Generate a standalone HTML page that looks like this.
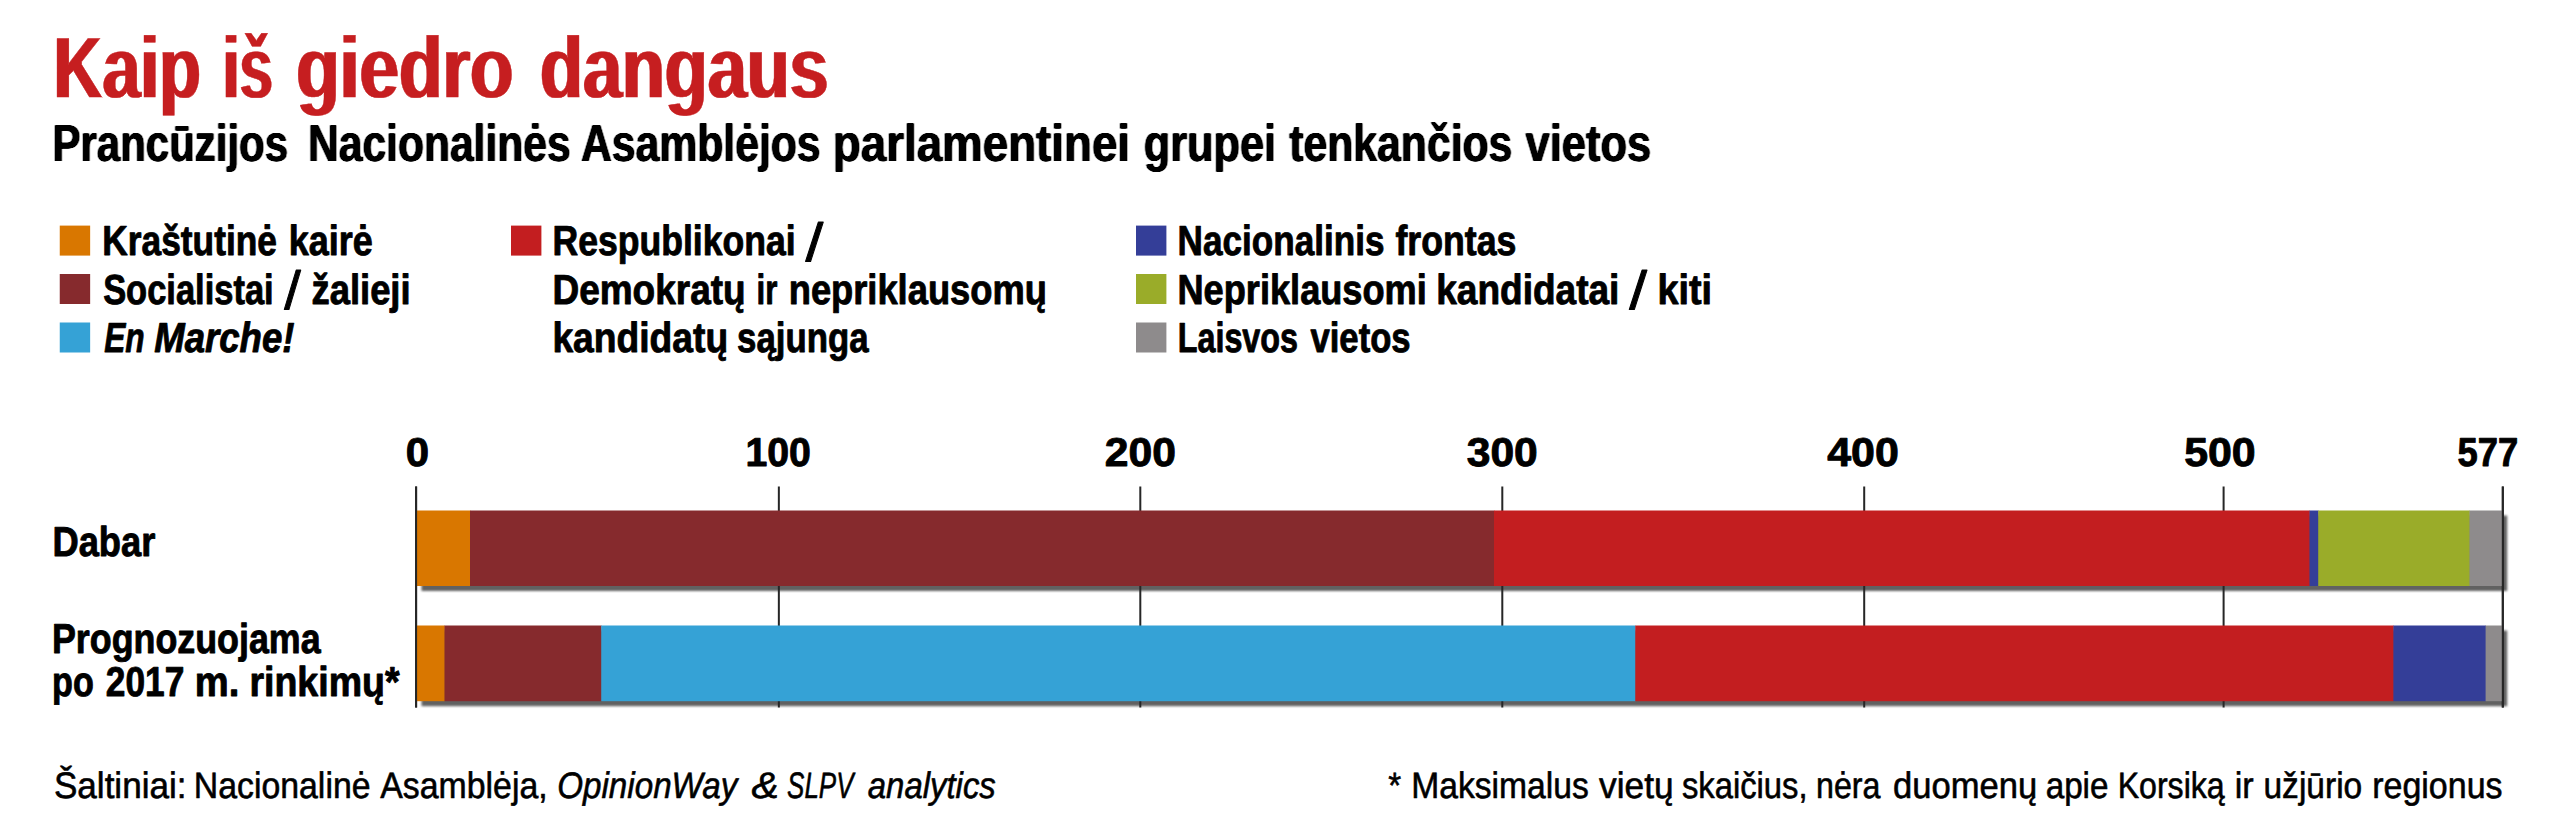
<!DOCTYPE html>
<html lang="lt">
<head>
<meta charset="utf-8">
<title>Kaip iš giedro dangaus</title>
<style>
html,body{margin:0;padding:0;background:#fff;}
body{width:2560px;height:835px;overflow:hidden;}
svg{display:block;}
svg text{font-family:"Liberation Sans",sans-serif;white-space:pre;text-rendering:geometricPrecision;stroke-linejoin:round;vector-effect:non-scaling-stroke;}
</style>
</head>
<body>
<svg width="2560" height="835" viewBox="0 0 2560 835">
<defs>
<filter id="sh" x="-1%" y="-20%" width="102%" height="140%">
<feGaussianBlur in="SourceGraphic" stdDeviation="1.2"/>
<feOffset dx="4.8" dy="5"/>
<feComponentTransfer><feFuncA type="linear" slope="0.62"/></feComponentTransfer>
</filter>
<filter id="ft" filterUnits="userSpaceOnUse" x="0" y="0" width="2560" height="240" color-interpolation-filters="sRGB"><feMorphology operator="erode" radius="0 1"/><feMorphology operator="dilate" radius="1 0"/></filter>
<filter id="fs" filterUnits="userSpaceOnUse" x="0" y="0" width="2560" height="240" color-interpolation-filters="sRGB"><feConvolveMatrix order="3 1" kernelMatrix="0.42 1 0.42" divisor="1" edgeMode="none"/></filter>
</defs>
<rect width="2560" height="835" fill="#fff"/>
<rect x="59.75" y="225.6" width="30.4" height="30" fill="#d97700"/>
<rect x="59.75" y="274" width="30.4" height="30" fill="#862a2d"/>
<rect x="59.75" y="322.5" width="30.4" height="30" fill="#35a2d6"/>
<rect x="511" y="225.6" width="30.4" height="30" fill="#c31e20"/>
<rect x="1136" y="225.6" width="30.4" height="30" fill="#343e98"/>
<rect x="1136" y="274" width="30.4" height="30" fill="#9aac29"/>
<rect x="1136" y="322.5" width="30.4" height="30" fill="#8e8b8c"/>
<rect x="416.5" y="510.5" width="2085.70" height="75.5" fill="#000" filter="url(#sh)"/>
<rect x="416.5" y="625.5" width="2085.70" height="75.7" fill="#000" filter="url(#sh)"/>
<rect x="415.10" y="486.5" width="2" height="221" fill="#262626"/>
<rect x="777.85" y="486.5" width="2" height="221" fill="#262626"/>
<rect x="1139.30" y="486.5" width="2" height="221" fill="#262626"/>
<rect x="1501.30" y="486.5" width="2" height="221" fill="#262626"/>
<rect x="1863.20" y="486.5" width="2" height="221" fill="#262626"/>
<rect x="2222.60" y="486.5" width="2" height="221" fill="#262626"/>
<rect x="2501.80" y="486.5" width="2" height="221" fill="#262626"/>
<rect x="416.50" y="510.5" width="53.90" height="75.5" fill="#d97700"/>
<rect x="470.00" y="510.5" width="1024.40" height="75.5" fill="#862a2d"/>
<rect x="1494.00" y="510.5" width="815.90" height="75.5" fill="#c31e20"/>
<rect x="2309.50" y="510.5" width="9.15" height="75.5" fill="#343e98"/>
<rect x="2318.25" y="510.5" width="151.65" height="75.5" fill="#9aac29"/>
<rect x="2469.50" y="510.5" width="32.70" height="75.5" fill="#8e8b8c"/>
<rect x="416.50" y="625.5" width="28.40" height="75.7" fill="#d97700"/>
<rect x="444.50" y="625.5" width="157.15" height="75.7" fill="#862a2d"/>
<rect x="601.25" y="625.5" width="1034.45" height="75.7" fill="#35a2d6"/>
<rect x="1635.30" y="625.5" width="758.50" height="75.7" fill="#c31e20"/>
<rect x="2393.40" y="625.5" width="92.60" height="75.7" fill="#343e98"/>
<rect x="2485.60" y="625.5" width="16.60" height="75.7" fill="#8e8b8c"/>
<rect x="2501.80" y="486.5" width="2" height="221" fill="#262626"/>
<rect x="415.10" y="486.5" width="2" height="221" fill="#262626"/>
<g stroke="#000">
<text y="97.80" font-size="87.94" font-weight="bold" fill="#c61e20" stroke="#c61e20" stroke-width="0.5" filter="url(#ft)"><tspan x="53.38" textLength="147.46" lengthAdjust="spacingAndGlyphs">Kaip</tspan> <tspan x="222.76" textLength="49.96" lengthAdjust="spacingAndGlyphs">iš</tspan> <tspan x="296.33" textLength="217.11" lengthAdjust="spacingAndGlyphs">giedro</tspan> <tspan x="540.11" textLength="288.46" lengthAdjust="spacingAndGlyphs">dangaus</tspan></text>
<text y="161.00" font-size="52.03" font-weight="bold" stroke="none" filter="url(#fs)"><tspan x="52.55" textLength="235.54" lengthAdjust="spacingAndGlyphs">Prancūzijos</tspan> <tspan x="308.01" textLength="262.59" lengthAdjust="spacingAndGlyphs">Nacionalinės</tspan> <tspan x="580.90" textLength="239.71" lengthAdjust="spacingAndGlyphs">Asamblėjos</tspan> <tspan x="832.83" textLength="297.23" lengthAdjust="spacingAndGlyphs">parlamentinei</tspan> <tspan x="1143.80" textLength="132.35" lengthAdjust="spacingAndGlyphs">grupei</tspan> <tspan x="1289.22" textLength="223.14" lengthAdjust="spacingAndGlyphs">tenkančios</tspan> <tspan x="1525.47" textLength="125.67" lengthAdjust="spacingAndGlyphs">vietos</tspan></text>
<text y="255.15" font-size="42.01" font-weight="bold" stroke-width="0.9"><tspan x="102.27" textLength="174.67" lengthAdjust="spacingAndGlyphs">Kraštutinė</tspan> <tspan x="288.74" textLength="83.98" lengthAdjust="spacingAndGlyphs">kairė</tspan></text>
<text y="303.55" font-size="42.01" font-weight="bold" stroke-width="0.9"><tspan x="103.13" textLength="170.51" lengthAdjust="spacingAndGlyphs">Socialistai</tspan> <tspan x="284.20" y="309.05" font-size="53.77" font-weight="normal" textLength="16.53" lengthAdjust="spacingAndGlyphs">/</tspan> <tspan x="311.48" y="303.55" textLength="99.13" lengthAdjust="spacingAndGlyphs">žalieji</tspan></text>
<text y="352.05" font-size="42.01" font-weight="bold" font-style="italic" stroke-width="0.9"><tspan x="104.20" textLength="40.34" lengthAdjust="spacingAndGlyphs">En</tspan> <tspan x="154.20" textLength="140.34" lengthAdjust="spacingAndGlyphs">Marche!</tspan></text>
<text y="255.15" font-size="42.01" font-weight="bold" stroke-width="0.9"><tspan x="552.51" textLength="243.05" lengthAdjust="spacingAndGlyphs">Respublikonai</tspan> <tspan x="805.45" y="260.65" font-size="53.77" font-weight="normal" textLength="17.77" lengthAdjust="spacingAndGlyphs">/</tspan></text>
<text y="303.55" font-size="42.01" font-weight="bold" stroke-width="0.9"><tspan x="552.44" textLength="193.20" lengthAdjust="spacingAndGlyphs">Demokratų</tspan> <tspan x="756.46" textLength="20.84" lengthAdjust="spacingAndGlyphs">ir</tspan> <tspan x="788.72" textLength="258.12" lengthAdjust="spacingAndGlyphs">nepriklausomų</tspan></text>
<text y="352.05" font-size="42.01" font-weight="bold" stroke-width="0.9"><tspan x="552.43" textLength="175.72" lengthAdjust="spacingAndGlyphs">kandidatų</tspan> <tspan x="737.12" textLength="131.40" lengthAdjust="spacingAndGlyphs">sąjunga</tspan></text>
<text y="255.15" font-size="42.01" font-weight="bold" stroke-width="0.9"><tspan x="1177.53" textLength="206.91" lengthAdjust="spacingAndGlyphs">Nacionalinis</tspan> <tspan x="1395.45" textLength="121.00" lengthAdjust="spacingAndGlyphs">frontas</tspan></text>
<text y="303.55" font-size="42.01" font-weight="bold" stroke-width="0.9"><tspan x="1177.48" textLength="249.37" lengthAdjust="spacingAndGlyphs">Nepriklausomi</tspan> <tspan x="1436.19" textLength="183.22" lengthAdjust="spacingAndGlyphs">kandidatai</tspan> <tspan x="1629.20" y="309.05" font-size="53.77" font-weight="normal" textLength="17.77" lengthAdjust="spacingAndGlyphs">/</tspan> <tspan x="1657.40" y="303.55" textLength="54.55" lengthAdjust="spacingAndGlyphs">kiti</tspan></text>
<text y="352.05" font-size="42.01" font-weight="bold" stroke-width="0.9"><tspan x="1177.66" textLength="120.44" lengthAdjust="spacingAndGlyphs">Laisvos</tspan> <tspan x="1310.45" textLength="100.22" lengthAdjust="spacingAndGlyphs">vietos</tspan></text>
<text y="465.85" font-size="40.26" font-weight="bold" stroke-width="0.9"><tspan x="405.66" textLength="23.34" lengthAdjust="spacingAndGlyphs">0</tspan></text>
<text y="465.85" font-size="40.26" font-weight="bold" stroke-width="0.9"><tspan x="745.40" textLength="65.50" lengthAdjust="spacingAndGlyphs">100</tspan></text>
<text y="465.85" font-size="40.26" font-weight="bold" stroke-width="0.9"><tspan x="1104.89" textLength="71.13" lengthAdjust="spacingAndGlyphs">200</tspan></text>
<text y="465.85" font-size="40.26" font-weight="bold" stroke-width="0.9"><tspan x="1466.75" textLength="71.01" lengthAdjust="spacingAndGlyphs">300</tspan></text>
<text y="465.85" font-size="40.26" font-weight="bold" stroke-width="0.9"><tspan x="1827.15" textLength="71.68" lengthAdjust="spacingAndGlyphs">400</tspan></text>
<text y="465.85" font-size="40.26" font-weight="bold" stroke-width="0.9"><tspan x="2184.18" textLength="71.54" lengthAdjust="spacingAndGlyphs">500</tspan></text>
<text y="465.85" font-size="40.26" font-weight="bold" stroke-width="0.9"><tspan x="2457.55" textLength="60.76" lengthAdjust="spacingAndGlyphs">577</tspan></text>
<text y="555.65" font-size="41.72" font-weight="bold" stroke-width="0.9"><tspan x="52.46" textLength="102.89" lengthAdjust="spacingAndGlyphs">Dabar</tspan></text>
<text y="652.55" font-size="41.72" font-weight="bold" stroke-width="0.9"><tspan x="51.98" textLength="268.62" lengthAdjust="spacingAndGlyphs">Prognozuojama</tspan></text>
<text y="695.80" font-size="41.72" font-weight="bold" stroke-width="0.9"><tspan x="52.06" textLength="41.69" lengthAdjust="spacingAndGlyphs">po</tspan> <tspan x="105.85" textLength="78.45" lengthAdjust="spacingAndGlyphs">2017</tspan> <tspan x="194.87" textLength="44.55" lengthAdjust="spacingAndGlyphs">m.</tspan> <tspan x="249.40" textLength="150.21" lengthAdjust="spacingAndGlyphs">rinkimų*</tspan></text>
<text y="798.20" font-size="36.77" stroke-width="0.6"><tspan x="53.95" textLength="132.57" lengthAdjust="spacingAndGlyphs">Šaltiniai:</tspan> <tspan x="193.79" textLength="176.74" lengthAdjust="spacingAndGlyphs">Nacionalinė</tspan> <tspan x="380.30" textLength="167.36" lengthAdjust="spacingAndGlyphs">Asamblėja,</tspan></text>
<text y="798.20" font-size="36.77" font-style="italic" stroke-width="0.6"><tspan x="557.25" textLength="180.09" lengthAdjust="spacingAndGlyphs">OpinionWay</tspan> <tspan x="751.55" textLength="27.35" lengthAdjust="spacingAndGlyphs">&amp;</tspan> <tspan x="787.09" textLength="66.40" lengthAdjust="spacingAndGlyphs">SLPV</tspan> <tspan x="867.80" textLength="127.99" lengthAdjust="spacingAndGlyphs">analytics</tspan></text>
<text y="798.20" font-size="36.77" stroke-width="0.6"><tspan x="1388.30" textLength="12.93" lengthAdjust="spacingAndGlyphs">*</tspan> <tspan x="1411.31" textLength="177.49" lengthAdjust="spacingAndGlyphs">Maksimalus</tspan> <tspan x="1599.05" textLength="74.54" lengthAdjust="spacingAndGlyphs">vietų</tspan> <tspan x="1681.91" textLength="125.66" lengthAdjust="spacingAndGlyphs">skaičius,</tspan> <tspan x="1816.05" textLength="64.42" lengthAdjust="spacingAndGlyphs">nėra</tspan> <tspan x="1893.11" textLength="144.20" lengthAdjust="spacingAndGlyphs">duomenų</tspan> <tspan x="2045.65" textLength="62.86" lengthAdjust="spacingAndGlyphs">apie</tspan> <tspan x="2117.68" textLength="107.04" lengthAdjust="spacingAndGlyphs">Korsiką</tspan> <tspan x="2234.69" textLength="18.99" lengthAdjust="spacingAndGlyphs">ir</tspan> <tspan x="2263.48" textLength="98.79" lengthAdjust="spacingAndGlyphs">užjūrio</tspan> <tspan x="2372.20" textLength="130.35" lengthAdjust="spacingAndGlyphs">regionus</tspan></text>
</g>
</svg>
</body>
</html>
